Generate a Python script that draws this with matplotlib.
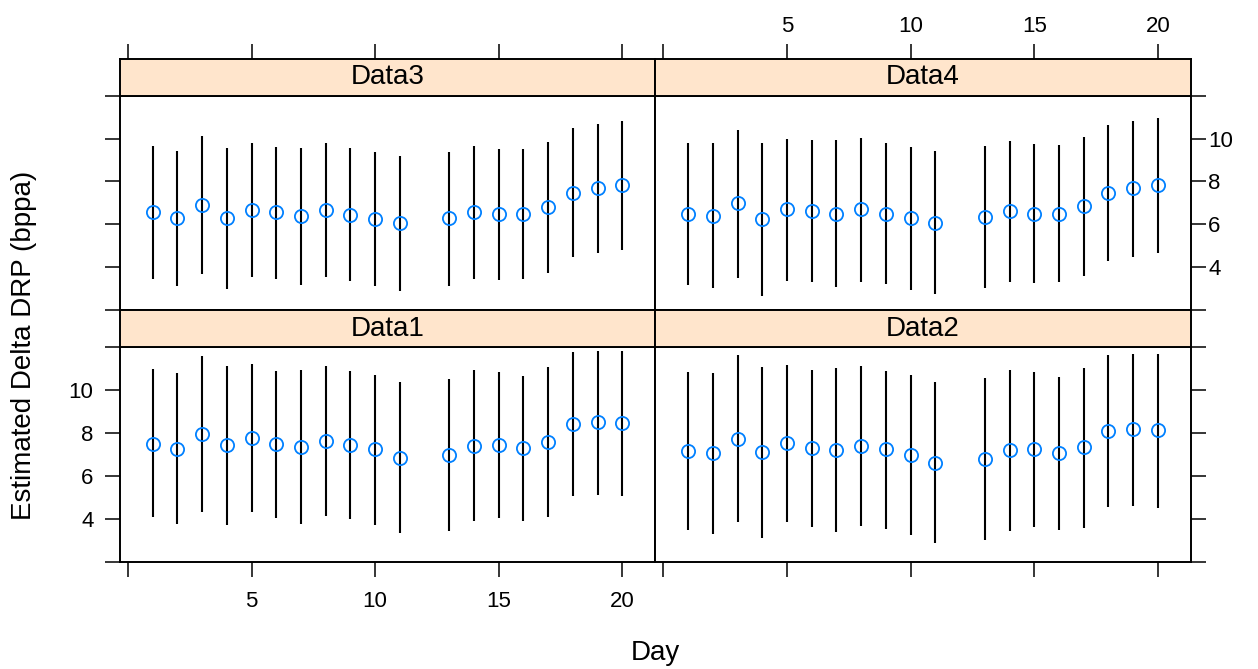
import matplotlib
matplotlib.use("Agg")
import matplotlib.pyplot as plt

plt.rcParams['font.family'] = ['Liberation Sans', 'DejaVu Sans']

### DATA ###
days = [1, 2, 3, 4, 5, 6, 7, 8, 9, 10, 11, 13, 14, 15, 16, 17, 18, 19, 20]

data1_est = [7.51, 7.28, 7.97, 7.44, 7.79, 7.48, 7.36, 7.64, 7.45, 7.25, 6.86,
             7.00, 7.42, 7.47, 7.31, 7.59, 8.42, 8.51, 8.46]
data1_lo = [4.08, 3.77, 4.33, 3.74, 4.34, 4.05, 3.78, 4.12, 3.98, 3.74, 3.33,
            3.46, 3.91, 4.03, 3.92, 4.09, 5.07, 5.14, 5.06]
data1_hi = [10.97, 10.78, 11.59, 11.12, 11.22, 10.91, 10.94, 11.11, 10.91, 10.72, 10.38,
            10.52, 10.92, 10.87, 10.67, 11.06, 11.76, 11.85, 11.85]

data2_est = [7.19, 7.08, 7.75, 7.11, 7.53, 7.30, 7.23, 7.41, 7.25, 7.00, 6.63,
             6.80, 7.20, 7.27, 7.06, 7.34, 8.12, 8.18, 8.14]
data2_lo = [3.49, 3.32, 3.84, 3.13, 3.86, 3.63, 3.39, 3.67, 3.55, 3.28, 2.88,
            3.04, 3.46, 3.61, 3.49, 3.60, 4.56, 4.62, 4.50]
data2_hi = [10.86, 10.81, 11.62, 11.08, 11.19, 10.94, 11.03, 11.11, 10.91, 10.73, 10.38,
            10.55, 10.92, 10.86, 10.63, 11.05, 11.65, 11.71, 11.71]

data3_est = [6.55, 6.30, 6.90, 6.28, 6.67, 6.55, 6.37, 6.67, 6.45, 6.25, 6.05,
             6.28, 6.56, 6.48, 6.46, 6.79, 7.48, 7.68, 7.84]
data3_lo = [3.43, 3.14, 3.67, 2.96, 3.56, 3.43, 3.17, 3.53, 3.35, 3.11, 2.90,
            3.12, 3.46, 3.42, 3.45, 3.71, 4.47, 4.66, 4.82]
data3_hi = [9.63, 9.42, 10.11, 9.58, 9.77, 9.61, 9.56, 9.80, 9.56, 9.36, 9.19,
            9.39, 9.64, 9.53, 9.49, 9.84, 10.47, 10.68, 10.83]

data4_est = [6.47, 6.40, 6.98, 6.23, 6.70, 6.62, 6.50, 6.70, 6.50, 6.28, 6.08,
             6.36, 6.62, 6.50, 6.50, 6.84, 7.46, 7.67, 7.84]
data4_lo = [3.15, 3.01, 3.51, 2.67, 3.37, 3.31, 3.06, 3.32, 3.20, 2.93, 2.73,
            3.01, 3.31, 3.26, 3.29, 3.59, 4.27, 4.49, 4.65]
data4_hi = [9.80, 9.77, 10.42, 9.80, 10.00, 9.91, 9.91, 10.02, 9.80, 9.60, 9.41,
            9.66, 9.88, 9.74, 9.69, 10.08, 10.61, 10.82, 10.98]

xticks = [0, 5, 10, 15, 20]
xticklabels = ['', '5', '10', '15', '20']
yticks = [2, 4, 6, 8, 10, 12]
yticklabels = ['', '4', '6', '8', '10', '']

### LAYOUT ###
W, H = 1258, 669
fig = plt.figure(figsize=(W / 100, H / 100), dpi=100)

def rect(x0, y0, x1, y1):
    # pixel box (top-left origin) -> figure fraction
    return [x0 / W, 1 - y1 / H, (x1 - x0) / W, (y1 - y0) / H]

cols = [(119.5, 655), (655, 1190.5)]
rows = [(59, 95.7, 310), (310, 347.3, 562)]   # strip top, panel top, panel bottom

panels = [
    ('Data3', 0, 0, data3_est, data3_lo, data3_hi),
    ('Data4', 0, 1, data4_est, data4_lo, data4_hi),
    ('Data1', 1, 0, data1_est, data1_lo, data1_hi),
    ('Data2', 1, 1, data2_est, data2_lo, data2_hi),
]

xlim = (-0.34, 21.32)
ylim = (2, 12)
tick_kw = dict(direction='out', length=10.8, width=1.1, labelsize=16, colors='black')
lw = 1.4

for name, r, c, est, lo, hi in panels:
    x0, x1 = cols[c]
    s0, p0, p1 = rows[r]

    ax = fig.add_axes(rect(x0, p0, x1, p1))
    ax.vlines(days, lo, hi, color='black', lw=1.5)
    ax.plot(days, est, 'o', mfc='none', mec='#0080ff', ms=9.5, mew=1.3)
    ax.set_xlim(*xlim)
    ax.set_ylim(*ylim)
    for sp in ax.spines.values():
        sp.set_linewidth(lw)

    ax.set_xticks(xticks)
    ax.set_yticks(yticks)
    ax.tick_params(**tick_kw)

    # x axis: bottom ticks on bottom row, labels only in left column
    if r == 1:
        ax.tick_params(axis='x', bottom=True, top=False, labelbottom=(c == 0), pad=10)
        ax.set_xticklabels(xticklabels)
    else:
        ax.tick_params(axis='x', bottom=False, top=False, labelbottom=False)

    # y axis: left column left ticks, right column right ticks
    if c == 0:
        ax.tick_params(axis='y', left=True, right=False, labelleft=(r == 1), pad=8)
    else:
        ax.tick_params(axis='y', left=False, right=True, labelleft=False,
                       labelright=(r == 0), pad=2)
    ax.set_yticklabels(yticklabels)

    # strip
    st = fig.add_axes(rect(x0, s0, x1, p0), facecolor='#ffe5cc')
    st.set_xlim(*xlim)
    st.set_yticks([])
    for sp in st.spines.values():
        sp.set_linewidth(lw)
    st.text(0.5, 0.5, name, transform=st.transAxes, ha='center', va='center', fontsize=20)
    if r == 0:
        st.set_xticks(xticks)
        st.set_xticklabels(xticklabels)
        st.tick_params(**tick_kw)
        st.tick_params(axis='x', bottom=False, labelbottom=False, top=True,
                       labeltop=(c == 1), pad=5)
    else:
        st.set_xticks([])

fig.text(655 / W, 1 - 653 / H, 'Day', ha='center', va='center', fontsize=20)
fig.text(24 / W, 1 - 345 / H, 'Estimated Delta DRP (bppa)', ha='center', va='center',
         rotation=90, fontsize=20)

fig.savefig('out.png', dpi=100)
